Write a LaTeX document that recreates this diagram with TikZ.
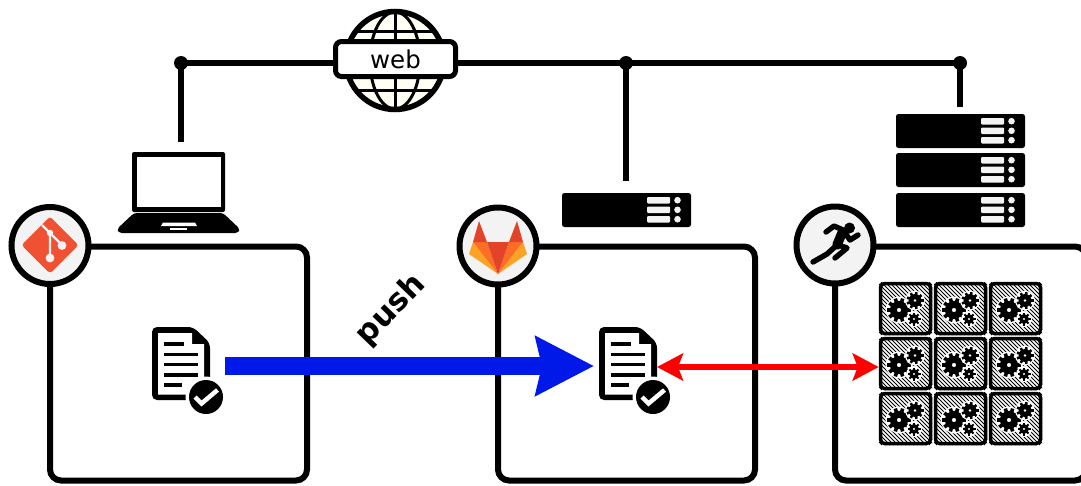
\documentclass[tikz,border=0pt]{standalone}
\usepackage{fontspec}
\setmainfont{DejaVu Sans}
\usetikzlibrary{arrows.meta}
\definecolor{disc}{HTML}{F3F3F3}
\definecolor{gitred}{HTML}{F05133}
\definecolor{glA}{HTML}{E24329}
\definecolor{glB}{HTML}{FC6D26}
\definecolor{glC}{HTML}{FCA326}
\definecolor{pushblue}{HTML}{0018E8}
\definecolor{ivoryglobe}{HTML}{FFFFF4}
\tikzset{
  panel/.style={draw=black,line width=6pt,rounded corners=11pt,fill=white,minimum width=257pt,minimum height=234pt,inner sep=0pt,outer sep=0pt},
  badge/.style={circle,draw=black,line width=6pt,fill=disc,minimum size=77pt,inner sep=0pt},
  wire/.style={draw=black,line width=6pt},
  jdot/.style={circle,fill=black,minimum size=14pt,inner sep=0pt},
  weblabel/.style={draw=black,line width=5pt,rounded corners=6pt,fill=white,minimum width=120pt,minimum height=35pt,inner sep=0pt,font=\fontsize{24.5}{24.5}\selectfont},
  tile/.style={draw=black,line width=3.5pt,rounded corners=4pt,minimum size=50pt,inner sep=0pt,outer sep=1.75pt},
  pushlabel/.style={inner sep=0pt,font=\bfseries\fontsize{31}{31}\selectfont},
  bluearrow/.style={draw=pushblue,line width=18.5pt,-{Stealth[length=58pt,width=58pt,inset=6pt,fill=pushblue]}},
  redarrow/.style={draw=red,line width=6pt,{Stealth[length=26pt,width=27pt,inset=5pt]}-{Stealth[length=26pt,width=27pt,inset=5pt]}}
}
% server unit, top-left at (#1,#2)
\newcommand\serverunit[2]{%
  \begin{scope}[shift={(#1,#2)}]
    \fill[black,rounded corners=2.5pt] (0,0) rectangle (129,34);
    \foreach \yy in {4,13.5,23}{\fill[disc,rounded corners=1pt] (85,\yy) rectangle (108,\yy+6.5);}
    \foreach \yy in {7.2,16.8,26.2}{\fill[disc] (115.5,\yy) circle[radius=3.3];}
  \end{scope}}
% document with check, top-left at (#1,#2)
\newcommand\docicon[2]{%
  \begin{scope}[shift={(#1,#2)}]
    \fill[black,rounded corners=5pt] (0,0) -- (41,0) -- (58,16) -- (58,73) -- (0,73) -- cycle;
    \fill[white] (6,6) -- (40,6) -- (40,17) -- (52,17) -- (52,67.5) -- (6,67.5) -- cycle;
    \draw[line width=4.4pt] (12,17) -- (32,17);
    \foreach \yy in {27.5,37.5,48}{\draw[line width=3.4pt] (12,\yy) -- (46,\yy);}
    \draw[line width=3.4pt] (12,58) -- (30,58);
    \fill[white] (54,70) circle[radius=20.5];
    \fill[black] (54,70) circle[radius=17];
    \draw[white,line width=4.5pt] (43,70) -- (49.5,76.5) -- (65.5,63);
  \end{scope}}
% one gear with its own white halo and hole
\newcommand\cog[4]{%
  \fill[white] (#1,#2) circle[radius=#3+1.4];
  \fill[black] (#1,#2) circle[radius=#3*0.76];
  \foreach \aa in {1,...,#4}{\draw[black,line width=#3*0.3pt] (#1,#2) ++ ({\aa*360/#4}:#3*0.6) -- ++ ({\aa*360/#4}:#3*0.4);}
  \fill[white] (#1,#2) circle[radius=#3*0.17];
}
% hatching and gears of a tile, top-left at (#1,#2)
\newcommand\tilebody[2]{%
  \begin{scope}[shift={(#1,#2)}]
    \begin{scope}
      \clip (0,0) rectangle (53,53);
      \foreach \dd in {-54,-50,...,54}{\draw[black,line width=0.8pt] (\dd,0) -- (\dd+53,53);}
    \end{scope}
    \cog{20}{28}{12}{10}
    \cog{36}{18.5}{8.5}{9}
    \cog{35}{37}{6.5}{8}
  \end{scope}}
\begin{document}
\begin{tikzpicture}[x=1pt,y=-1pt]
\useasboundingbox (0,0) rectangle (1081,485);
\clip (0,0) rectangle (1081,485);
\fill[white] (0,0) rectangle (1081,485);

% panels
\node[panel] (gitpanel) at (178.5,363.5) {};
\node[panel] (labpanel) at (626.5,363.5) {};
\node[panel,minimum width=251pt] (runpanel) at (960.5,363.5) {};

% globe
\node[circle,draw=black,line width=5.5pt,fill=ivoryglobe,minimum size=98pt,inner sep=0pt] (globe) at (395,60.5) {};
\begin{scope}
  \clip (395,60.5) circle[radius=48];
  \draw[line width=3pt] (395,60.5) circle[x radius=25,y radius=48.5];
  \draw[line width=3pt] (395,10) -- (395,111);
  \draw[line width=3pt] (340,31) -- (450,31);
  \draw[line width=3pt] (340,90) -- (450,90);
\end{scope}
\node[weblabel] (web) at (395.5,59) {web};

% network
\node[jdot] (jlaptop) at (181,63) {};
\node[jdot] (jlab) at (626,63) {};
\node[jdot] (jrack) at (960,63) {};
\coordinate (laptoptop) at (181,142);
\coordinate (labservertop) at (626,181);
\coordinate (racktop) at (960,107);
\draw[wire] (web.west |- jlaptop) -- (jlaptop.center);
\draw[wire] (web.east |- jlab) -- (jlab.center) -- (jrack.center);
\draw[wire] (jlaptop.center) -- (laptoptop);
\draw[wire] (jlab.center) -- (labservertop);
\draw[wire] (jrack.center) -- (racktop);

% laptop
\fill[black,rounded corners=2pt] (132,152) rectangle (225,212);
\fill[white] (136.5,157) rectangle (220.5,207);
\fill[black,rounded corners=3pt] (134,213) -- (223,213) -- (240,229) -- (238,233) -- (119,233) -- (117,229) -- cycle;
\fill[white] (163,222.5) -- (195,222.5) -- (197,226) -- (161,226) -- cycle;
\fill[white] (170,227.5) rectangle (187,229.5);

% servers
\serverunit{562}{193}
\serverunit{896}{114}
\serverunit{896}{153}
\serverunit{896}{193}

% badges
\node[badge] (gitbadge) at (50,245.5) {};
\node[badge] (labbadge) at (498,246) {};
\node[badge] (runbadge) at (835,245) {};

% git logo
\fill[gitred,rounded corners=3pt] (50,216.5) -- (78.5,245) -- (50,273.5) -- (21.5,245) -- cycle;
\draw[disc,line width=2.2pt] (42,225) -- (50,233) -- (50,258);
\draw[disc,line width=2.2pt] (50,233) -- (62,245);
\fill[disc] (50,233) circle[radius=3.2];
\fill[disc] (50,258) circle[radius=4.4];
\fill[disc] (62,245.5) circle[radius=4.4];

% gitlab logo
\fill[glC] (473,242) -- (469,254) -- (498,274) -- cycle;
\fill[glC] (523,242) -- (527,254) -- (498,274) -- cycle;
\fill[glB] (473,242) -- (487,242) -- (498,274) -- cycle;
\fill[glB] (523,242) -- (509,242) -- (498,274) -- cycle;
\fill[glA] (487,242) -- (509,242) -- (498,274) -- cycle;
\fill[glA] (479,221) -- (473,242) -- (487,242) -- cycle;
\fill[glA] (517,221) -- (523,242) -- (509,242) -- cycle;

% runner
\fill[black] (849.5,228) circle[radius=5.5];
\draw[black,line width=5.4pt,line cap=round,line join=round] (826,232) -- (834,226) -- (843,230) -- (850,240) -- (858,235);
\draw[black,line width=9.5pt,line cap=round] (842,233) -- (837,245);
\draw[black,line width=5.4pt,line cap=round,line join=round] (838,244) -- (827,254) -- (813,262);
\draw[black,line width=5.4pt,line cap=round,line join=round] (838,245) -- (847,248) -- (835,258);

% documents
\docicon{152}{327}
\docicon{599}{327}

% tiles
\foreach \cc/\xx in {1/879,2/934,3/989}{
  \foreach \rr/\yy in {1/282,2/337,3/392}{
    \tilebody{\xx}{\yy}
    \node[tile] (tile\rr\cc) at (\xx+26.5,\yy+26.5) {};
  }
}

% arrows
\coordinate (pushstart) at (225,366);
\coordinate (pushend) at (594,366);
\coordinate (labdoc) at (657,367);
\draw[bluearrow] (pushstart) -- (pushend);
\draw[redarrow] (labdoc) -- (tile21.west |- labdoc);

\node[pushlabel,rotate=46] (push) at (391,310) {push};
\end{tikzpicture}
\end{document}
